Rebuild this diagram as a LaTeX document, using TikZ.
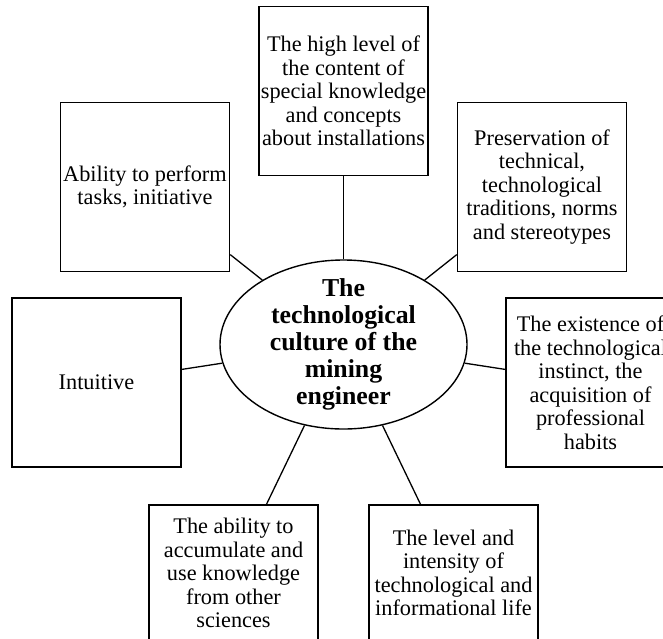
\documentclass[tikz,border=0pt]{standalone}
\usepackage{fontspec}
\setmainfont{Liberation Serif}
\usetikzlibrary{shapes.geometric}

\begin{document}
\begin{tikzpicture}[x=1pt,y=-1pt,
                    font=\fontsize{22.3}{23.5}\selectfont]
  % styles
  \tikzstyle{box}=[rectangle,draw,line width=1.6pt,align=center,
                   inner sep=0pt,minimum width=169pt,minimum height=169pt]
  \tikzstyle{lowbox}=[box,minimum height=136pt]
  \tikzstyle{core}=[ellipse,draw,line width=1.4pt,align=center,
                    inner xsep=0pt,inner ysep=-12pt,
                    minimum width=247pt,minimum height=169pt,
                    font=\fontsize{25.8}{27}\selectfont\bfseries]
  \tikzstyle{link}=[line width=1.3pt]

  % page
  \useasboundingbox (0,0) rectangle (663,638);
  \clip (0,0) rectangle (663,638);

  % nodes
  \node[core] (culture) at (343.5,344.5)
        {The\\technological\\culture of the\\mining\\engineer};
  \node[box] (knowledge) at (343.5,91)
        {The high level of\\the content of\\special knowledge\\and concepts\\about installations};
  \node[box] (ability) at (145,187)
        {Ability to perform\\tasks, initiative};
  \node[box] (traditions) at (542,187)
        {Preservation of\\technical,\\technological\\traditions, norms\\and stereotypes};
  \node[box] (intuition) at (96.5,382.5) {Intuitive};
  \node[box] (instinct) at (590.5,382.5)
        {The existence of\\the technological\\instinct, the\\acquisition of\\professional\\habits};
  \node[lowbox] (sciences) at (233.5,573)
        {The ability to\\accumulate and\\use knowledge\\from other\\sciences};
  \node[lowbox] (intensity) at (453.5,573)
        {The level and\\intensity of\\technological and\\informational life};

  % connectors
  \foreach \n in {knowledge,ability,traditions,intuition,instinct,sciences,intensity}
    \draw[link] (culture) -- (\n);
\end{tikzpicture}
\end{document}
